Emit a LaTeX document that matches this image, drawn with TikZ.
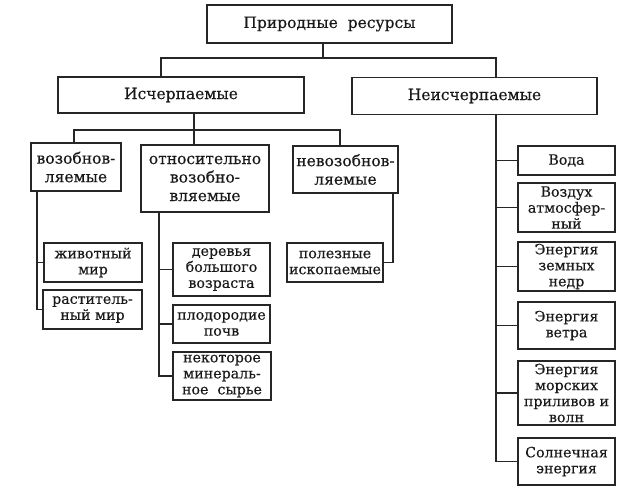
\documentclass[tikz,border=0pt]{standalone}
\usepackage{fontspec}
\setmainfont{DejaVu Serif}[FakeBold=0.35]
\begin{document}
\begin{tikzpicture}[x=1pt,y=-1pt,
  box/.style={draw=black!85, line width=1.1pt, inner sep=0pt, align=center, text=black!90},
  big/.style={box, font=\fontsize{15.5}{19}\selectfont},
  mid/.style={box, font=\fontsize{15.5}{18.5}\selectfont},
  sml/.style={box, font=\fontsize{14.2}{16}\selectfont},
  link/.style={draw=black!85, line width=1.1pt}]
\useasboundingbox (0,0) rectangle (638,497);
% level 0/1
\node[big, minimum width=245, minimum height=38] (top) at (329.5,24) {Природные\ \ ресурсы};
\node[big, minimum width=246, minimum height=36] (isch) at (181,95) {Исчерпаемые};
\node[big, minimum width=245, minimum height=37] (neisch) at (474.5,96) {Неисчерпаемые};
% level 2
\node[mid, minimum width=90, minimum height=48] (vozob) at (76,167) {возобнов-\\ляемые};
\node[mid, minimum width=128, minimum height=67] (otnos) at (205,178.5) {относительно\\возобно-\\вляемые};
\node[mid, minimum width=105, minimum height=47] (nevoz) at (345.5,169.5) {невозобнов-\\ляемые};
% level 3 left
\node[sml, minimum width=98, minimum height=39] (zhiv) at (93,262.5) {животный\\мир};
\node[sml, minimum width=99, minimum height=39] (rast) at (92.5,309.5) {раститель-\\ный мир};
\node[sml, minimum width=97, minimum height=53] (derev) at (221.5,269.5) {деревья\\большого\\возраста};
\node[sml, minimum width=97, minimum height=38] (plod) at (221.5,324) {плодородие\\почв};
\node[sml, minimum width=98, minimum height=48] (nekot) at (222,376) {некоторое\\минераль-\\ное\ \ сырье};
\node[sml, minimum width=96, minimum height=39] (polez) at (335,262.5) {полезные\\ископаемые};
% right column
\node[sml, minimum width=97, minimum height=29] (voda) at (566.5,160.5) {Вода};
\node[sml, minimum width=97, minimum height=49] (vozd) at (566.5,207.5) {Воздух\\атмосфер-\\ный};
\node[sml, minimum width=97, minimum height=49] (zemn) at (566.5,266.5) {Энергия\\земных\\недр};
\node[sml, minimum width=97, minimum height=47] (vetr) at (566.5,325.5) {Энергия\\ветра};
\node[sml, minimum width=97, minimum height=64] (mor) at (566.5,393) {Энергия\\морских\\приливов и\\волн};
\node[sml, minimum width=97, minimum height=47] (soln) at (566.5,461.5) {Солнечная\\энергия};
% connector coordinates
\coordinate (j0) at (323,58);
\coordinate (a1) at (161,58);
\coordinate (a2) at (496,58);
\coordinate (j1) at (194,130);
\coordinate (b1) at (74,130);
\coordinate (b3) at (340,130);
\coordinate (s1) at (37,0);
\coordinate (s2) at (159,0);
\coordinate (s3) at (393,0);
\coordinate (s4) at (496,0);
% top connectors
\draw[link] (j0 |- top.south) -- (j0);
\draw[link] (isch.north -| a1) -- (a1) -- (a2) -- (neisch.north -| a2);
% isch connectors
\draw[link] (isch.south -| j1) -- (j1);
\draw[link] (vozob.north -| b1) -- (b1) -- (b3) -- (nevoz.north -| b3);
\draw[link] (j1) -- (otnos.north -| j1);
% vozob
\draw[link] (vozob.south -| s1) |- (rast.west);
\draw[link] (zhiv.west) -- (zhiv.west -| s1);
% otnos
\draw[link] (otnos.south -| s2) |- (nekot.west);
\draw[link] (derev.west) -- (derev.west -| s2);
\draw[link] (plod.west) -- (plod.west -| s2);
% nevoz
\draw[link] (nevoz.south -| s3) |- (polez.east);
% neisch
\draw[link] (neisch.south -| s4) |- (soln.west);
\foreach \n in {voda,vozd,zemn,vetr,mor}{
  \draw[link] (\n.west) -- (\n.west -| s4);
}
\end{tikzpicture}
\end{document}
